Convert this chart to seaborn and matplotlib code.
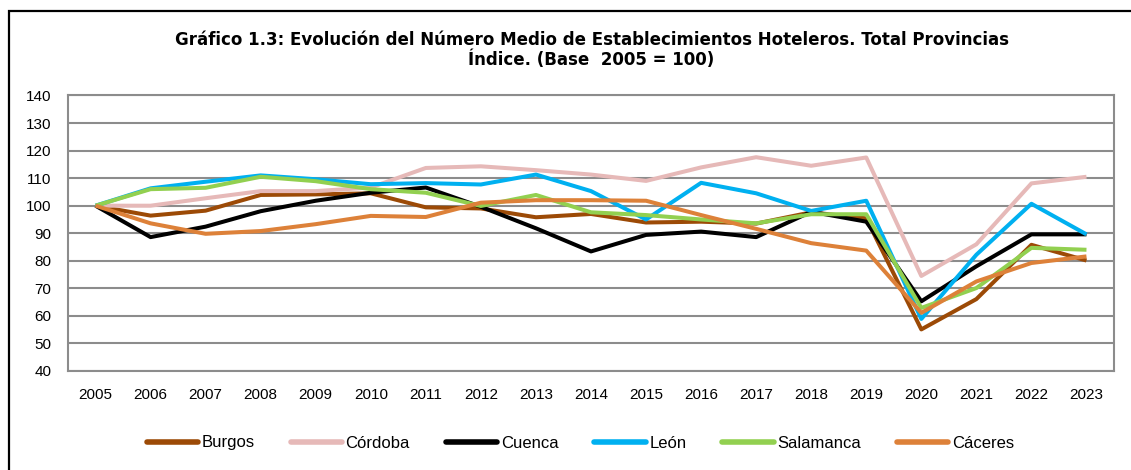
import matplotlib
matplotlib.use("Agg")
import matplotlib.pyplot as plt
import seaborn as sns
import pandas as pd
from matplotlib.patches import Rectangle

years = [str(y) for y in range(2005, 2024)]
burgos = [100, 96.4, 98.2, 103.9, 104.1, 104.5, 99.4, 99.0, 95.8, 97.0, 93.9, 94.2, 93.5, 97.6, 95.4, 55.1, 66.1, 85.8, 80.1]
cordoba = [100, 100.0, 102.7, 105.3, 105.3, 106.6, 113.7, 114.3, 112.9, 111.3, 109.0, 113.9, 117.6, 114.5, 117.5, 74.5, 86.0, 108.1, 110.5]
cuenca = [100, 88.6, 92.4, 98.0, 101.8, 104.7, 106.6, 99.6, 91.8, 83.4, 89.4, 90.6, 88.6, 97.8, 94.2, 65.3, 78.0, 89.6, 89.6]
leon = [100, 106.3, 108.7, 111.0, 109.6, 107.8, 108.2, 107.7, 111.3, 105.3, 95.0, 108.3, 104.5, 98.1, 101.8, 58.9, 82.2, 100.7, 89.6]
salamanca = [100, 106.0, 106.5, 110.5, 108.9, 106.0, 104.7, 99.9, 103.9, 97.6, 96.6, 95.0, 93.6, 96.9, 96.9, 62.9, 70.1, 84.7, 84.0]
caceres = [100, 93.6, 89.8, 90.8, 93.3, 96.3, 95.9, 101.1, 102.0, 102.0, 101.8, 96.6, 91.6, 86.4, 83.7, 61.1, 72.5, 79.2, 81.6]

names = ["Burgos", "Córdoba", "Cuenca", "León", "Salamanca", "Cáceres"]
series = [burgos, cordoba, cuenca, leon, salamanca, caceres]
colors = ["#9C4A06", "#E6B9B8", "#000000", "#00B0F0", "#92D050", "#DD8139"]
title = "Gráfico 1.3: Evolución del Número Medio de Establecimientos Hoteleros. Total Provincias\nÍndice. (Base  2005 = 100)"
yticks = list(range(40, 141, 10))

rows = []
for n, s in zip(names, series):
    for i, (y, v) in enumerate(zip(years, s)):
        rows.append({"idx": i, "Año": y, "Provincia": n, "Valor": v})
df = pd.DataFrame(rows)

sns.set_theme(style="white")
plt.rcParams["font.family"] = ["Liberation Sans", "DejaVu Sans"]
plt.rcParams["text.color"] = "black"
plt.rcParams["xtick.color"] = "black"
plt.rcParams["ytick.color"] = "black"

fig = plt.figure(figsize=(11.31, 4.70), dpi=100)
ax = fig.add_axes([68/1131, 1-371/470, (1114-68)/1131, (371-95.5)/470])

sns.lineplot(data=df, x="idx", y="Valor", hue="Provincia", hue_order=names,
             palette=dict(zip(names, colors)), linewidth=2.9, ax=ax,
             legend=False, solid_capstyle="butt")

ax.set_xlim(-0.5, len(years) - 0.5)
ax.set_ylim(40, 140)
ax.set_yticks(yticks)
ax.set_yticklabels([str(t) for t in yticks], fontsize=11)
ax.set_xticks(range(len(years)))
ax.set_xticklabels(years, fontsize=11)
ax.tick_params(axis="x", length=0, pad=12, colors="black")
ax.tick_params(axis="y", length=0, pad=12, colors="black")
ax.set_xlabel("")
ax.set_ylabel("")
ax.grid(axis="y", color="#8C8C8C", linewidth=1.5)
ax.set_axisbelow(True)
for sp in ax.spines.values():
    sp.set_color("#8C8C8C")
    sp.set_linewidth(1.5)

handles = [plt.Line2D([0], [0], color=c, linewidth=4, solid_capstyle="round") for c in colors]
fig.legend(handles, names, loc="center", bbox_to_anchor=(0.513, 1-443/470), ncol=6,
           frameon=False, fontsize=12, handlelength=3.1, handletextpad=0.2,
           columnspacing=2.15)

fig.text(0.523, 1-50/470, title, ha="center", va="center", fontsize=12,
         fontweight="bold", family=["DejaVu Sans"], linespacing=1.05, color="black")

fig.patches.append(Rectangle((9/1131, -0.1), 1.2, (470-11)/470 + 0.1, transform=fig.transFigure,
                             fill=False, edgecolor="black", linewidth=1.6))

fig.savefig("out.png", dpi=100)
